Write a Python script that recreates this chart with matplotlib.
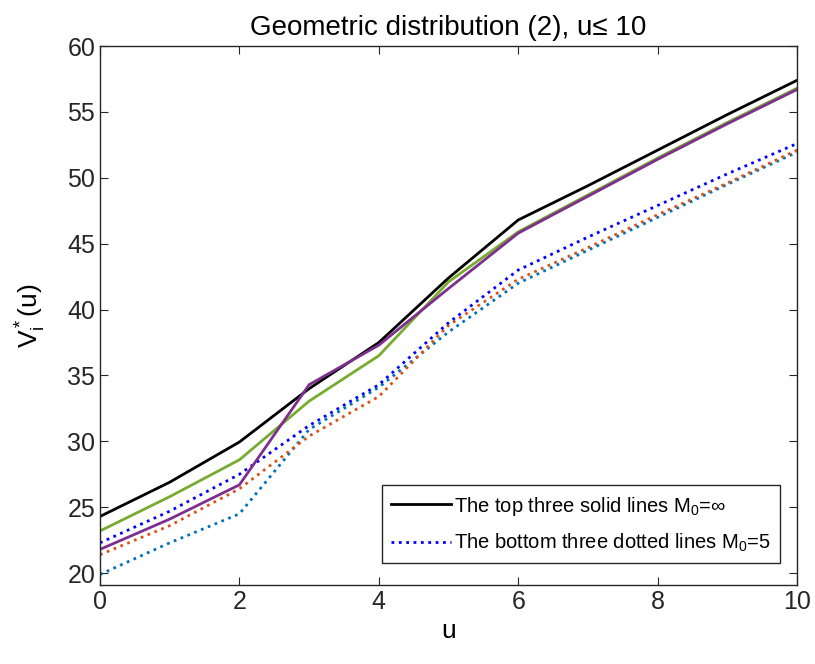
import matplotlib
matplotlib.use('Agg')
from matplotlib import pyplot as plt
from matplotlib.lines import Line2D

plt.rcParams["font.family"] = ["Liberation Sans", "DejaVu Sans"]
plt.rcParams["mathtext.fontset"] = "custom"
plt.rcParams["mathtext.rm"] = "Liberation Sans"
plt.rcParams["mathtext.it"] = "Liberation Sans"
plt.rcParams["font.size"] = 16

u = [0, 1, 2, 3, 4, 5, 6, 7, 8, 9, 10]

# solid lines, M0 = inf
top_black = [24.3, 26.9, 29.95, 34.0, 37.5, 42.4, 46.8, 49.4, 52.1, 54.8, 57.4]
top_green = [23.2, 25.8, 28.6, 33.05, 36.5, 42.1, 45.9, 48.7, 51.5, 54.2, 56.8]
top_purple = [21.8, 24.1, 26.7, 34.3, 37.3, 41.6, 45.8, 48.6, 51.4, 54.1, 56.7]

# dotted lines, M0 = 5
bot_blue = [22.3, 24.7, 27.5, 31.2, 34.3, 39.0, 43.0, 45.5, 47.9, 50.3, 52.6]
bot_orange = [21.4, 23.6, 26.4, 30.4, 33.4, 38.8, 42.3, 44.7, 47.2, 49.6, 52.1]
bot_light = [19.9, 22.3, 24.5, 30.9, 34.1, 38.3, 42.0, 44.5, 47.0, 49.5, 51.95]

fig = plt.figure(figsize=(8.15, 6.64), dpi=100)
ax = fig.add_axes([0.1227, 0.119, 0.8553, 0.8117])

lw = 2.0
ax.plot(u, bot_light, ':', color='#0072BD', lw=lw)
ax.plot(u, bot_orange, ':', color='#D95319', lw=lw)
ax.plot(u, bot_blue, ':', color='#0000FF', lw=lw)
ax.plot(u, top_green, '-', color='#77AC30', lw=lw)
ax.plot(u, top_black, '-', color='black', lw=lw)
ax.plot(u, top_purple, '-', color='#7E2F8E', lw=lw)

ax.set_xlim(0, 10)
ax.set_ylim(19.1, 60)
ax.set_xticks([0, 2, 4, 6, 8, 10])
ax.set_yticks([20, 25, 30, 35, 40, 45, 50, 55, 60])
ax.tick_params(direction='in', top=True, right=True, colors='#262626', labelsize=18, length=6)
for s in ax.spines.values():
    s.set_color('#262626')
    s.set_linewidth(1.0)

ax.set_title('Geometric distribution (2), u\u2264 10', fontsize=20, pad=8)
ax.set_xlabel('u', fontsize=19)
ax.set_ylabel(r'V$_i^*$(u)', fontsize=19, labelpad=14)

handles = [Line2D([], [], color='black', lw=lw, ls='-'),
           Line2D([], [], color='#0000FF', lw=lw, ls=':')]
labels = [r'The top three solid lines M$_0$=$\infty$',
          r'The bottom three dotted lines M$_0$=5']
leg = ax.legend(handles, labels, loc='lower right', bbox_to_anchor=(0.9756, 0.0408),
                fontsize=14.5, fancybox=False,
                edgecolor='#262626', framealpha=1, handlelength=3.0,
                borderaxespad=0.0, handletextpad=0.15, borderpad=0.45, labelspacing=0.7)
leg.get_frame().set_linewidth(1.0)

fig.savefig('out.png', dpi=100)
